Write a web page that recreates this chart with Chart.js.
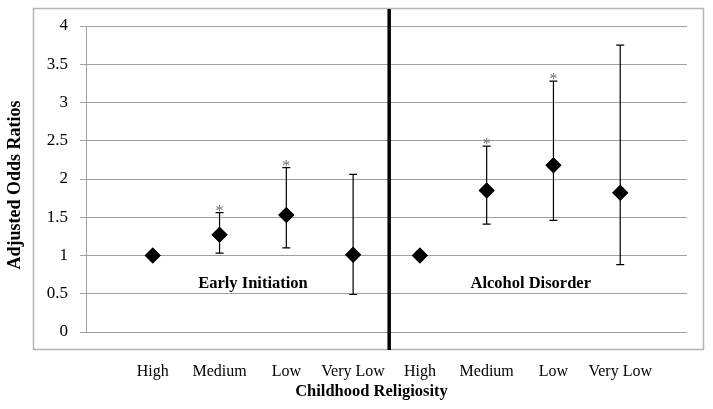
<!DOCTYPE html>
<html>
<head>
<meta charset="utf-8">
<script src="https://cdn.jsdelivr.net/npm/chart.js@4/dist/chart.umd.min.js"></script>
<style>
  body { margin: 0; background: #fff; }
  #wrap { width: 713px; height: 409px; }
</style>
</head>
<body>
<div id="wrap"><canvas id="oddsChart" width="713" height="409"></canvas></div>
<script>
// categories (two groups of four)
const groups = ["Early Initiation", "Alcohol Disorder"];
const levels = ["High", "Medium", "Low", "Very Low"];
const categories = levels.concat(levels);

// adjusted odds ratios with 95% CI
const oddsRatios = [1.0, 1.27, 1.53, 1.01, 1.0, 1.85, 2.18, 1.82];
const lowerCI    = [null, 1.03, 1.10, 0.49, null, 1.41, 1.46, 0.88];
const upperCI    = [null, 1.56, 2.15, 2.06, null, 2.43, 3.28, 3.75];
const significant = [false, true, true, false, false, true, true, false];

const yTicks = [0, 0.5, 1, 1.5, 2, 2.5, 3, 3.5, 4];

const SERIF = "'Liberation Serif', 'Times New Roman', serif";
const GRID = "#a0a0a0";

const points = oddsRatios.map((v, i) => ({ x: i + 1, y: v }));

const overlay = {
    id: "overlay",
    beforeDraw(chart) {
        const ctx = chart.ctx;
        ctx.save();
        ctx.fillStyle = "#fff";
        ctx.fillRect(0, 0, chart.width, chart.height);
        // outer frame
        ctx.strokeStyle = "#b4b4b4";
        ctx.lineWidth = 1.5;
        ctx.strokeRect(33.5, 8.5, 670, 341);
        ctx.restore();
    },
    afterDatasetsDraw(chart) {
        const ctx = chart.ctx;
        const xs = chart.scales.x, ys = chart.scales.y;
        ctx.save();

        // divider between the two outcomes
        const dx = xs.getPixelForValue(4.54);
        ctx.strokeStyle = "#000";
        ctx.lineWidth = 3.5;
        ctx.beginPath();
        ctx.moveTo(dx, 9);
        ctx.lineTo(dx, 350);
        ctx.stroke();

        // error bars
        ctx.lineWidth = 1.2;
        ctx.strokeStyle = "#000";
        oddsRatios.forEach((v, i) => {
            if (lowerCI[i] == null) return;
            const px = xs.getPixelForValue(i + 1);
            const lo = ys.getPixelForValue(lowerCI[i]);
            const hi = ys.getPixelForValue(upperCI[i]);
            ctx.beginPath();
            ctx.moveTo(px, lo); ctx.lineTo(px, hi);
            ctx.moveTo(px - 4, lo); ctx.lineTo(px + 4, lo);
            ctx.moveTo(px - 4, hi); ctx.lineTo(px + 4, hi);
            ctx.stroke();
            if (significant[i]) {
                ctx.fillStyle = "#6e6e6e";
                ctx.font = "16px " + SERIF;
                ctx.textAlign = "center";
                ctx.textBaseline = "alphabetic";
                ctx.fillText("*", px, hi + 3);
            }
        });

        // group labels
        ctx.fillStyle = "#000";
        ctx.font = "bold 16.5px " + SERIF;
        ctx.textAlign = "center";
        ctx.textBaseline = "middle";
        ctx.fillText(groups[0], xs.getPixelForValue(2.5), ys.getPixelForValue(0.63));
        ctx.fillText(groups[1], xs.getPixelForValue(6.66), ys.getPixelForValue(0.63));

        // axis titles
        ctx.fillText("Childhood Religiosity", 371.5, 392);
        ctx.translate(15, 185);
        ctx.rotate(-Math.PI / 2);
        ctx.font = "bold 18px " + SERIF;
        ctx.fillText("Adjusted Odds Ratios", 0, 0);
        ctx.restore();

        // redraw points above the bars
        chart.getDatasetMeta(0).data.forEach(p => p.draw(ctx));
    }
};

new Chart(document.getElementById("oddsChart"), {
    type: "scatter",
    data: {
        datasets: [{
            data: points,
            pointStyle: "rectRot",
            pointRadius: 8,
            pointHoverRadius: 8,
            backgroundColor: "#000",
            borderColor: "#000",
            borderWidth: 0
        }]
    },
    options: {
        responsive: false,
        animation: false,
        events: [],
        layout: { padding: { left: 0, top: 26, right: 26, bottom: 0 } },
        plugins: { legend: { display: false }, tooltip: { enabled: false } },
        scales: {
            x: {
                type: "linear",
                min: 0,
                max: 9,
                afterFit: (scale) => { scale.height = 77; },
                afterBuildTicks: (scale) => {
                    scale.ticks = categories.map((c, i) => ({ value: i + 1 }));
                },
                ticks: {
                    autoSkip: false,
                    maxRotation: 0,
                    padding: 30,
                    color: "#000",
                    font: { family: SERIF, size: 16 },
                    callback: (v) => categories[v - 1] || ""
                },
                grid: { display: false, drawTicks: false },
                border: { display: false }
            },
            y: {
                min: 0,
                max: 4,
                afterFit: (scale) => { scale.width = 86; },
                afterBuildTicks: (scale) => {
                    scale.ticks = yTicks.map(v => ({ value: v }));
                },
                ticks: {
                    padding: 12,
                    color: "#000",
                    font: { family: SERIF, size: 17 },
                    callback: (v) => String(v)
                },
                grid: { color: GRID, lineWidth: 1, tickLength: 6 },
                border: { color: GRID, width: 1 }
            }
        }
    },
    plugins: [overlay]
});
</script>
</body>
</html>
